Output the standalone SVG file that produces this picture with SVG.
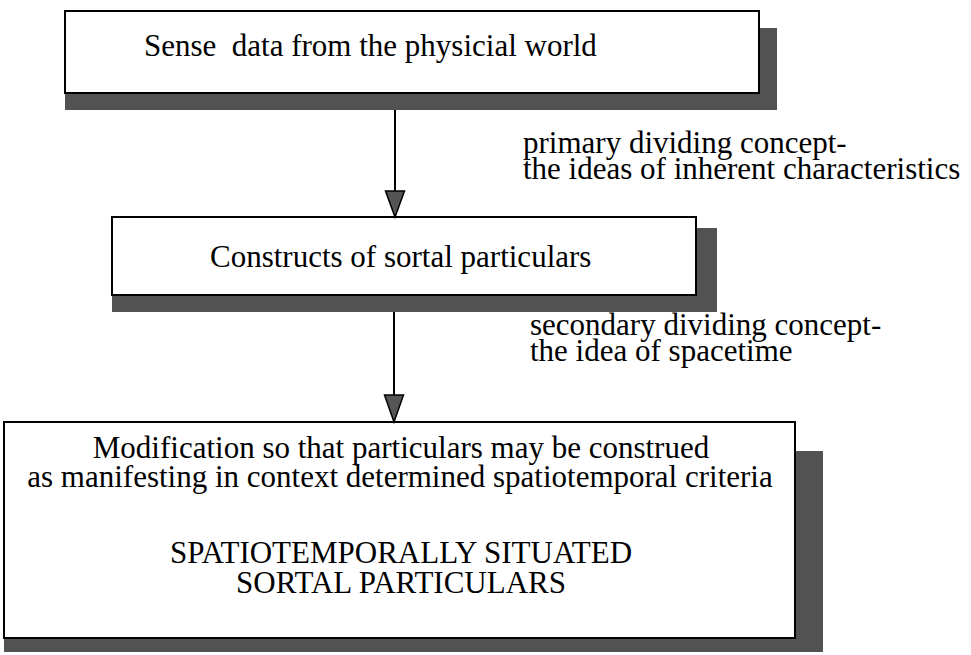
<svg xmlns="http://www.w3.org/2000/svg" width="971" height="655" viewBox="0 0 971 655">
<style>
.box{fill:#fff;stroke:#000;stroke-width:2}
.shadow{fill:#525252}
.t{font-family:"Liberation Serif","Times New Roman",serif;font-size:31px;fill:#000}
.m{text-anchor:middle}
.conn{stroke:#000;stroke-width:2;fill:none}
.head{fill:#555;stroke:#000;stroke-width:1.5}
</style>
<rect width="971" height="655" fill="#fff"/>
<g id="n1">
<rect class="shadow" x="65" y="28" width="712" height="82"/>
<rect class="box" x="65" y="11" width="694" height="82"/>
<text class="t" x="144" y="56" xml:space="preserve">Sense  data from the physicial world</text>
</g>
<g id="n2">
<rect class="shadow" x="112" y="228" width="605" height="84"/>
<rect class="box" x="112" y="217" width="584" height="78"/>
<text class="t" x="210" y="267">Constructs of sortal particulars</text>
</g>
<g id="n3">
<rect class="shadow" x="4" y="451" width="819" height="201"/>
<rect class="box" x="4" y="422" width="791" height="216"/>
<text class="t m" x="401" y="458">Modification so that particulars may be construed</text>
<text class="t m" x="400" y="487">as manifesting in context determined spatiotemporal criteria</text>
<text class="t m" x="401" y="563">SPATIOTEMPORALLY SITUATED</text>
<text class="t m" x="401" y="593">SORTAL PARTICULARS</text>
</g>
<g id="labels">
<text class="t" x="523" y="153">primary dividing concept-</text>
<text class="t" x="523" y="179">the ideas of inherent characteristics</text>
<text class="t" x="530" y="335">secondary dividing concept-</text>
<text class="t" x="530" y="361">the idea of spacetime</text>
</g>
<g id="connectors">
<line class="conn" x1="395" y1="110" x2="395" y2="192"/>
<path class="head" d="M385.5,191 L404.5,191 L395,217 Z"/>
<line class="conn" x1="394" y1="312" x2="394" y2="396"/>
<path class="head" d="M384.5,395 L403.5,395 L394,422 Z"/>
</g>
</svg>
